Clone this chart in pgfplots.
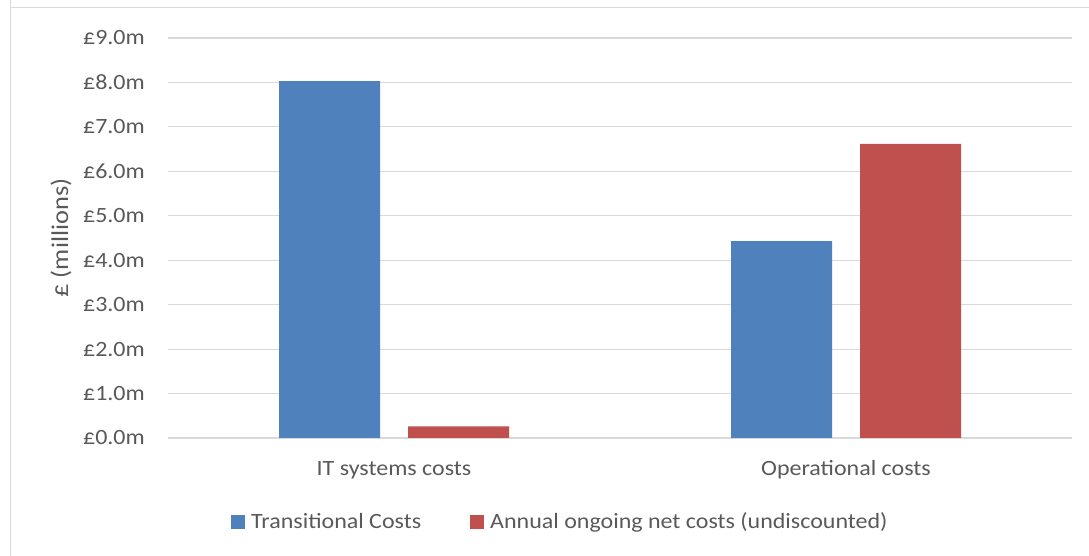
\documentclass[border=0pt]{standalone}
\usepackage{fontspec}
\setmainfont{Carlito}[FakeStretch=1.1]
\usepackage{pgfplots}
\pgfplotsset{compat=1.18}
\definecolor{txt}{HTML}{595959}
\definecolor{grid}{HTML}{D9D9D9}
\definecolor{cblue}{HTML}{4F81BD}
\definecolor{cred}{HTML}{C0504D}
\begin{document}
\fontsize{21.8}{25}\selectfont
\begin{tikzpicture}[x=1pt,y=1pt]
\useasboundingbox (0,0) rectangle (1089,556);
\draw[grid, line width=1pt] (10,556) -- (10,548) -- (1089,548);
\draw[grid, line width=1pt] (10,548) -- (10,0);
\begin{axis}[
  at={(168pt,118pt)}, anchor=south west,
  width=904pt, height=400pt, scale only axis,
  xmin=-0.5, xmax=1.5, ymin=0, ymax=9,
  ybar=28pt, bar width=101pt,
  xtick={0,1}, xticklabels={IT systems costs, Operational costs},
  ytick={0,1,...,9},
  yticklabel={£\pgfmathprintnumber[fixed,fixed zerofill,precision=1]{\tick}m},
  /pgf/number format/assume math mode=true,
  ymajorgrids, major grid style={draw=grid, line width=1.2pt},
  axis line style={draw=none},
  tick style={draw=none}, major tick length=0pt,
  tick label style={text=txt},
  yticklabel style={anchor=east, inner sep=0pt, xshift=-23pt},
  xticklabel style={anchor=base, inner sep=0pt, yshift=-38pt},
  ylabel={£ (millions)},
  ylabel style={at={(axis description cs:-0.1184,0.5)}, anchor=center, text=txt, inner sep=0pt, font=\fontsize{24}{28}\selectfont},
  legend columns=2,
  legend style={draw=none, fill=none, inner sep=0pt, text=txt,
    at={(axis description cs:0.433,-0.21)}, anchor=center,
    nodes={inner sep=0pt, anchor=base west},
    /tikz/every odd column/.append style={column sep=6pt},
    /tikz/every even column/.append style={column sep=49pt}},
  legend image code/.code={\fill[#1, draw=none] (0pt,-1pt) rectangle (14pt,13pt);},
]
\addplot[fill=cblue, draw=none] coordinates {(0,8.03) (1,4.43)};
\addplot[fill=cred, draw=none] coordinates {(0,0.26) (1,6.62)};
\legend{Transitional Costs, Annual ongoing net costs (undiscounted)}
\end{axis}
\end{tikzpicture}
\end{document}
